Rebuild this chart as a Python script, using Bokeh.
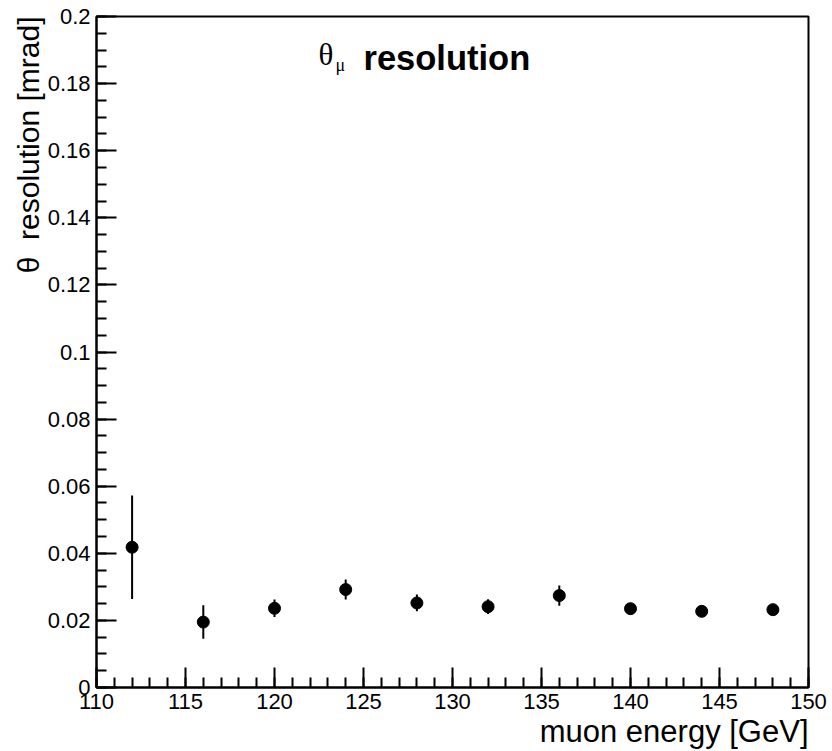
from bokeh.plotting import figure
from bokeh.models import FixedTicker, Label, ColumnDataSource, Title
from bokeh.embed import file_html
from bokeh.resources import INLINE

# ---- data ----
energy = [112, 116, 120, 124, 128, 132, 136, 140, 144, 148]
resolution = [0.0418, 0.0195, 0.0236, 0.0292, 0.0252, 0.0241, 0.0274, 0.0235, 0.0227, 0.0232]
error = [0.0154, 0.0050, 0.0026, 0.0030, 0.0025, 0.0022, 0.0030, 0.0014, 0.0012, 0.0013]

x_ticks = [110, 115, 120, 125, 130, 135, 140, 145, 150]
x_tick_labels = ["110", "115", "120", "125", "130", "135", "140", "145", "150"]
x_minor = list(range(110, 151))
y_ticks = [0.0, 0.02, 0.04, 0.06, 0.08, 0.1, 0.12, 0.14, 0.16, 0.18, 0.2]
y_tick_labels = ["0", "0.02", "0.04", "0.06", "0.08", "0.1", "0.12", "0.14", "0.16", "0.18", "0.2"]
y_minor = [i * 0.005 for i in range(41)]

title_main = "resolution"
title_sym = "\u03b8"
title_sub = "\u03bc"
x_title = "muon energy [GeV]"
y_title = "\u03b8\u00a0\u00a0resolution [mrad]"

X0, X1 = 110, 150
Y0, Y1 = 0.0, 0.2
W, H = 832, 751
ML, MR, MT, MB = 96, 24, 16, 64

p = figure(width=W, height=H, x_range=(X0, X1), y_range=(Y0, Y1),
           output_backend="svg", toolbar_location=None,
           min_border_left=ML, min_border_right=MR, min_border_top=MT, min_border_bottom=MB)
p.background_fill_color = "white"
p.border_fill_color = "white"
p.xgrid.visible = False
p.ygrid.visible = False
p.outline_line_color = "black"
p.outline_line_width = 2

# frame pixel helpers for annotation placement
fw = W - ML - MR
fh = H - MT - MB
def px_x(px):
    return X0 + (px - ML) / fw * (X1 - X0)
def px_y(py):
    return Y0 + (H - MB - py) / fh * (Y1 - Y0)

for ax, ticks, labels, minor in ((p.xaxis[0], x_ticks, x_tick_labels, x_minor),
                                 (p.yaxis[0], y_ticks, y_tick_labels, y_minor)):
    ax.ticker = FixedTicker(ticks=ticks, minor_ticks=minor)
    ax.major_label_overrides = dict(zip(ticks, labels))
    ax.axis_line_width = 2
    ax.axis_line_color = "black"
    ax.major_tick_in = 20
    ax.major_tick_out = 0
    ax.minor_tick_in = 10
    ax.minor_tick_out = 0
    ax.major_tick_line_width = 2
    ax.minor_tick_line_width = 2
    ax.major_label_text_font = "Liberation Sans"
    ax.major_label_text_font_size = "22px"
    ax.major_label_text_color = "black"
p.xaxis.major_label_standoff = 6
p.yaxis.major_label_standoff = 6

src = ColumnDataSource(dict(
    x=energy, y=resolution,
    lo=[r - e for r, e in zip(resolution, error)],
    hi=[r + e for r, e in zip(resolution, error)],
))
p.segment(x0="x", y0="lo", x1="x", y1="hi", source=src, line_color="black", line_width=2)
p.scatter(x="x", y="y", source=src, size=12, marker="circle",
          fill_color="black", line_color="black")

# title inside the frame
p.add_layout(Label(x=px_x(318), y=px_y(54), text=title_sym, text_font="Liberation Serif",
                   text_font_size="31px", text_align="left", text_baseline="alphabetic",
                   text_color="black"))
p.add_layout(Label(x=px_x(335), y=px_y(64), text=title_sub, text_font="Liberation Serif",
                   text_font_size="18px", text_align="left", text_baseline="alphabetic",
                   text_color="black"))
p.add_layout(Label(x=px_x(363), y=px_y(57), text=title_main, text_font="Liberation Sans",
                   text_font_size="34.5px", text_font_style="bold", text_align="left",
                   text_baseline="alphabetic", text_color="black"))

# axis titles, right/top aligned as in the reference
p.add_layout(Title(text=x_title, align="right", text_font="Liberation Sans",
                   text_font_size="31px", text_font_style="normal", text_color="black",
                   standoff=0), "below")
p.add_layout(Title(text=y_title, align="right", text_font="Liberation Sans",
                   text_font_size="30px", text_font_style="normal", text_color="black",
                   standoff=0), "left")

open("out.html", "w").write(file_html(p, INLINE))
